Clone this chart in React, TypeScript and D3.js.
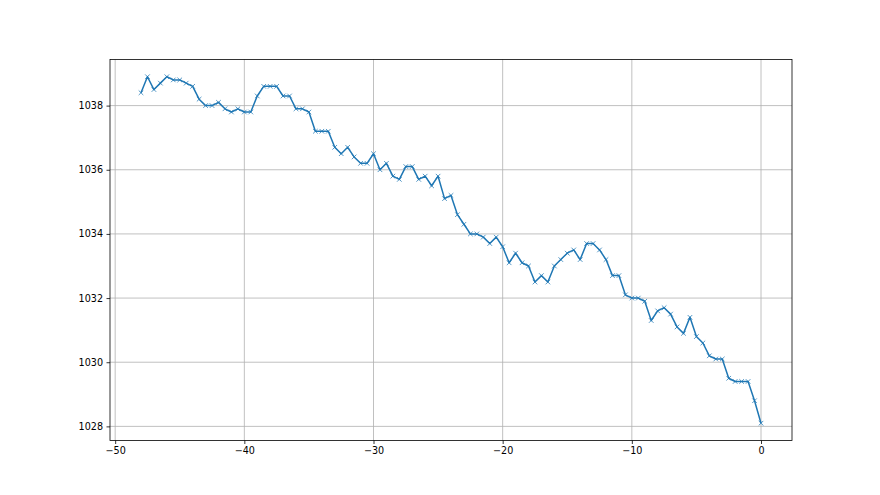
import React, { useEffect, useRef } from 'react';
import * as d3 from 'd3';

// sample offsets (x) and readings (y)
const offsets = [
  -48, -47.5, -47, -46.5, -46, -45.5, -45, -44.5, -44, -43.5, -43, -42.5, -42, -41.5, -41, -40.5,
  -40, -39.5, -39, -38.5, -38, -37.5, -37, -36.5, -36, -35.5, -35, -34.5, -34, -33.5, -33, -32.5,
  -32, -31.5, -31, -30.5, -30, -29.5, -29, -28.5, -28, -27.5, -27, -26.5, -26, -25.5, -25, -24.5,
  -24, -23.5, -23, -22.5, -22, -21.5, -21, -20.5, -20, -19.5, -19, -18.5, -18, -17.5, -17, -16.5,
  -16, -15.5, -15, -14.5, -14, -13.5, -13, -12.5, -12, -11.5, -11, -10.5, -10, -9.5, -9, -8.5,
  -8, -7.5, -7, -6.5, -6, -5.5, -5, -4.5, -4, -3.5, -3, -2.5, -2, -1.5, -1, -0.5, 0,
];

const readings = [
  1038.4, 1038.9, 1038.5, 1038.7, 1038.9, 1038.8, 1038.8, 1038.7, 1038.6, 1038.2, 1038.0, 1038.0, 1038.1, 1037.9, 1037.8, 1037.9,
  1037.8, 1037.8, 1038.3, 1038.6, 1038.6, 1038.6, 1038.3, 1038.3, 1037.9, 1037.9, 1037.8, 1037.2, 1037.2, 1037.2, 1036.7, 1036.5,
  1036.7, 1036.4, 1036.2, 1036.2, 1036.5, 1036.0, 1036.2, 1035.8, 1035.7, 1036.1, 1036.1, 1035.7, 1035.8, 1035.5, 1035.8, 1035.1,
  1035.2, 1034.6, 1034.3, 1034.0, 1034.0, 1033.9, 1033.7, 1033.9, 1033.6, 1033.1, 1033.4, 1033.1, 1033.0, 1032.5, 1032.7, 1032.5,
  1033.0, 1033.2, 1033.4, 1033.5, 1033.2, 1033.7, 1033.7, 1033.5, 1033.2, 1032.7, 1032.7, 1032.1, 1032.0, 1032.0, 1031.9, 1031.3,
  1031.6, 1031.7, 1031.5, 1031.1, 1030.9, 1031.4, 1030.8, 1030.6, 1030.2, 1030.1, 1030.1, 1029.5, 1029.4, 1029.4, 1029.4, 1028.8,
  1028.1,
];

const xTicks = [-50, -40, -30, -20, -10, 0];
const yTicks = [1028, 1030, 1032, 1034, 1036, 1038];

const W = 880, H = 495;
const margin = { top: 59.4, right: 88, bottom: 54.5, left: 110 };
const blue = '#1f77b4';

function PressureChart() {
  const ref = useRef<SVGSVGElement>(null);

  useEffect(() => {
    const svg = d3.select(ref.current);
    svg.selectAll('*').remove();

    const width = W - margin.left - margin.right;
    const height = H - margin.top - margin.bottom;

    const data = offsets.map((x, i) => ({ x, y: readings[i] }));

    // matplotlib style 5% padding on both axes
    const [x0, x1] = d3.extent(offsets) as [number, number];
    const [y0, y1] = d3.extent(readings) as [number, number];
    const px = (x1 - x0) * 0.05, py = (y1 - y0) * 0.05;

    const x = d3.scaleLinear().domain([x0 - px, x1 + px]).range([0, width]);
    const y = d3.scaleLinear().domain([y0 - py, y1 + py]).range([height, 0]);

    const g = svg.append('g').attr('transform', `translate(${margin.left},${margin.top})`);

    // grid
    g.append('g').selectAll('line').data(xTicks).enter().append('line')
      .attr('x1', d => x(d)).attr('x2', d => x(d))
      .attr('y1', 0).attr('y2', height)
      .attr('stroke', '#b0b0b0').attr('stroke-width', 0.8);
    g.append('g').selectAll('line').data(yTicks).enter().append('line')
      .attr('x1', 0).attr('x2', width)
      .attr('y1', d => y(d)).attr('y2', d => y(d))
      .attr('stroke', '#b0b0b0').attr('stroke-width', 0.8);

    // line + x markers
    const line = d3.line<{ x: number; y: number }>().x(d => x(d.x)).y(d => y(d.y));
    g.append('path').datum(data)
      .attr('d', line)
      .attr('fill', 'none')
      .attr('stroke', blue)
      .attr('stroke-width', 1.5)
      .attr('stroke-linejoin', 'round');

    const m = 2.3;
    g.append('g').selectAll('path').data(data).enter().append('path')
      .attr('d', d => {
        const cx = x(d.x), cy = y(d.y);
        return `M${cx - m},${cy - m}L${cx + m},${cy + m}M${cx - m},${cy + m}L${cx + m},${cy - m}`;
      })
      .attr('stroke', blue)
      .attr('stroke-opacity', 0.85)
      .attr('stroke-width', 0.9)
      .attr('fill', 'none');

    // axes
    const xAxis = d3.axisBottom(x).tickValues(xTicks).tickSize(3.5).tickPadding(3.5)
      .tickFormat(d => d3.format('d')(d as number).replace('-', '\u2212'));
    const yAxis = d3.axisLeft(y).tickValues(yTicks).tickSize(3.5).tickPadding(3.5)
      .tickFormat(d3.format('d'));

    const gx = g.append('g').attr('transform', `translate(0,${height})`).call(xAxis);
    const gy = g.append('g').call(yAxis);
    [gx, gy].forEach(a => {
      a.select('.domain').remove();
      a.selectAll('line').attr('stroke', '#000').attr('stroke-width', 0.8);
      a.selectAll('text')
        .attr('fill', '#000')
        .style('font-family', '"DejaVu Sans", sans-serif')
        .style('font-size', '9.6px');
    });

    // frame
    g.append('rect')
      .attr('x', 0).attr('y', 0).attr('width', width).attr('height', height)
      .attr('fill', 'none').attr('stroke', '#000').attr('stroke-width', 0.8);
  }, []);

  return <svg ref={ref} width={W} height={H} style={{ display: 'block', background: '#fff' }} />;
}

export default function App() {
  return (
    <div style={{ margin: -8 }}>
      <PressureChart />
    </div>
  );
}
